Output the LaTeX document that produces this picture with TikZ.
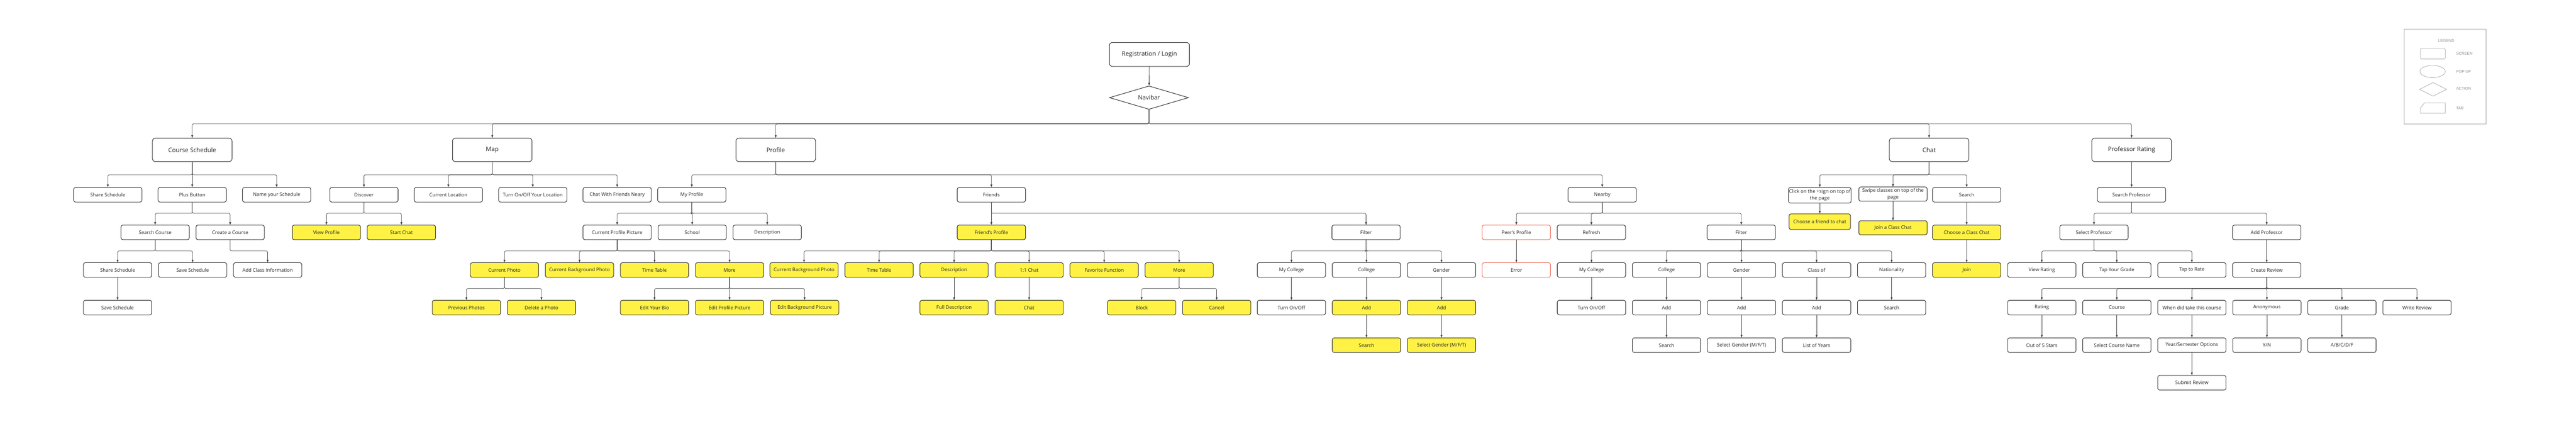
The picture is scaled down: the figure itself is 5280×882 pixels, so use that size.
\documentclass[tikz,border=0pt]{standalone}
\usepackage{fontspec}
\setmainfont{Open Sans}
\newfontfamily\legendfont{Liberation Sans}
\usetikzlibrary{positioning, arrows.meta, shapes.geometric}
\definecolor{boxyellow}{HTML}{FFF245}
\definecolor{boxred}{HTML}{EE6B5B}

\begin{document}
\begin{tikzpicture}[
  x=1pt, y=-1pt,
  node distance=47pt and 13.8pt,
  >={Latex[length=6pt,width=4.5pt]},
  every node/.style={font=\fontsize{10}{12}\selectfont, text=black!85},
  scr/.style={draw=black!80, line width=1.1pt, rounded corners=4pt, outer sep=0pt,
    minimum width=140pt, minimum height=30pt, inner sep=2pt, align=center},
  hot/.style={scr, fill=boxyellow},
  err/.style={scr, draw=boxred},
  main/.style={scr, minimum width=163pt, minimum height=48pt, rounded corners=6pt,
    font=\fontsize{12.6}{15}\selectfont},
  twoline/.style={font=\fontsize{10}{14}\selectfont, inner xsep=1pt},
  link/.style={->, draw=black!75, line width=0.8pt, rounded corners=3pt},
  lgline/.style={draw=black!35, line width=0.8pt},
  lgtext/.style={font=\legendfont\fontsize{8}{9}\selectfont, text=black!45}
]
\useasboundingbox (0,0) rectangle (5280,882);
\fill[white] (0,0) rectangle (5280,882);

% Login
\node[main, minimum width=164pt, minimum height=49pt] (reg) at (2356,111.5) {Registration / Login};
\node[draw=black!80, line width=1.1pt, diamond, aspect=3.4, minimum width=162pt,
  minimum height=48pt, inner sep=0pt, font=\fontsize{12.4}{15}\selectfont] (nav) at (2355,200) {Navibar};
\draw[link] (reg) -- (nav);

% Tabs
\node[main] (cs) at (394,307) {Course Schedule};
\node[main] (map) at (1009,307) {Map};
\node[main] (pf) at (1590,307) {Profile};
\node[main] (ch) at (3954,307) {Chat};
\node[main] (pr) at (4369,307) {Professor Rating};
\foreach \X in {cs,map,pf,ch,pr} {
  \draw[link] (nav.south) -- ++(0,29) -| (\X.north);
}

% Course Schedule
\node[scr] (cs1) at (221,399) {Share Schedule};
\node[scr] (cs2) at (394,399) {Plus Button};
\node[scr] (cs3) at (567,399) {Name your Schedule};
\node[scr] (cs21) at (318,476) {Search Course};
\node[scr, right=of cs21] (cs22) {Create a Course};
\node[scr] (cs211) at (241,553) {Share Schedule};
\node[scr, right=of cs211] (cs212) {Save Schedule};
\node[scr, right=of cs212] (cs221) {Add Class Information};
\node[scr, below=of cs211] (cs2111) {Save Schedule};

\foreach \X in {cs1,cs2,cs3} {\draw[link] (cs.south) -- ++(0,27) -| (\X.north);}
\foreach \X in {cs21,cs22} {\draw[link] (cs2.south) -- ++(0,23) -| (\X.north);}
\foreach \X in {cs211,cs212} {\draw[link] (cs21.south) -- ++(0,23) -| (\X.north);}
\draw[link] (cs22.south) -- ++(0,23) -| (cs221.north);

% Map
\node[scr] (mp1) at (746,399) {Discover};
\node[scr] (mp2) at (919,399) {Current Location};
\node[scr] (mp3) at (1092,399) {Turn On/Off Your Location};
\node[scr] (mp4) at (1265,399) {Chat With Friends Neary};
\node[hot] (mp11) at (669,476) {View Profile};
\node[hot, right=of mp11] (mp12) {Start Chat};

\foreach \X in {mp1,mp2,mp3,mp4} {\draw[link] (map.south) -- ++(0,27) -| (\X.north);}
\foreach \X in {mp11,mp12} {\draw[link] (mp1.south) -- ++(0,23) -| (\X.north);}

% Profile / My Profile
\node[scr] (pf1) at (1418,399) {My Profile};
\node[scr] (pf2) at (2032,399) {Friends};
\node[scr] (pf3) at (3284,399) {Nearby};
\node[scr] (pf11) at (1265,476) {Current Profile Picture};
\node[scr, right=of pf11] (pf12) {School};
\node[scr, right=of pf12] (pf13) {Description};
\node[hot] (pf111) at (1034,553) {Current Photo};
\node[hot, right=of pf111] (pf112) {Current Background Photo};
\node[hot, right=of pf112] (pf113) {Time Table};
\node[hot, right=of pf113] (pf114) {More};
\node[hot] (pf1111) at (956,630) {Previous Photos};
\node[hot, right=of pf1111] (pf1112) {Delete a Photo};
\node[hot, below=of pf113] (pf1141) {Edit Your Bio};
\node[hot, right=of pf1141] (pf1142) {Edit Profile Picture};
\node[hot, right=of pf1142] (pf1143) {Edit Background Picture};

\foreach \X in {pf1,pf2,pf3} {\draw[link] (pf.south) -- ++(0,27) -| (\X.north);}
\foreach \X in {pf11,pf12,pf13} {\draw[link] (pf1.south) -- ++(0,23) -| (\X.north);}
\foreach \X in {pf111,pf112,pf113,pf114} {\draw[link] (pf11.south) -- ++(0,23) -| (\X.north);}
\foreach \X in {pf1111,pf1112} {\draw[link] (pf111.south) -- ++(0,23) -| (\X.north);}
\foreach \X in {pf1141,pf1142,pf1143} {\draw[link] (pf114.south) -- ++(0,23) -| (\X.north);}

% Friends
\node[hot] (fr1) at (2032,476) {Friend's Profile};
\node[scr] (fr2) at (2800,476) {Filter};
\node[hot] (fr11) at (1648,553) {Current Background Photo};
\node[hot, right=of fr11] (fr12) {Time Table};
\node[hot, right=of fr12] (fr13) {Description};
\node[hot, right=of fr13] (fr14) {1:1 Chat};
\node[hot, right=of fr14] (fr15) {Favorite Function};
\node[hot, right=of fr15] (fr16) {More};
\node[hot, below=of fr13] (fr131) {Full Description};
\node[hot, below=of fr14] (fr141) {Chat};
\node[hot] (fr161) at (2340,630) {Block};
\node[hot, right=of fr161] (fr162) {Cancel};
\node[scr] (fr21) at (2647,553) {My College};
\node[scr, right=of fr21] (fr22) {College};
\node[scr, right=of fr22] (fr23) {Gender};
\node[scr, below=of fr21] (fr211) {Turn On/Off};
\node[hot, below=of fr22] (fr221) {Add};
\node[hot, below=of fr221] (fr2211) {Search};
\node[hot, below=of fr23] (fr231) {Add};
\node[hot, below=of fr231] (fr2311) {Select Gender (M/F/T)};

\foreach \X in {fr1,fr2} {\draw[link] (pf2.south) -- ++(0,23) -| (\X.north);}
\foreach \X in {fr11,fr12,fr13,fr14,fr15,fr16} {\draw[link] (fr1.south) -- ++(0,23) -| (\X.north);}
\foreach \X in {fr161,fr162} {\draw[link] (fr16.south) -- ++(0,23) -| (\X.north);}
\foreach \X in {fr21,fr22,fr23} {\draw[link] (fr2.south) -- ++(0,23) -| (\X.north);}

% Nearby
\node[err] (nb1) at (3108,476) {Peer's Profile};
\node[scr, right=of nb1] (nb2) {Refresh};
\node[scr] (nb3) at (3569,476) {Filter};
\node[err, below=of nb1] (nb11) {Error};
\node[scr] (nb31) at (3262,553) {My College};
\node[scr, right=of nb31] (nb32) {College};
\node[scr, right=of nb32] (nb33) {Gender};
\node[scr, right=of nb33] (nb34) {Class of};
\node[scr, right=of nb34] (nb35) {Nationality};
\node[scr, below=of nb31] (nb311) {Turn On/Off};
\node[scr, below=of nb32] (nb321) {Add};
\node[scr, below=of nb321] (nb3211) {Search};
\node[scr, below=of nb33] (nb331) {Add};
\node[scr, below=of nb331] (nb3311) {Select Gender (M/F/T)};
\node[scr, below=of nb34] (nb341) {Add};
\node[scr, below=of nb341] (nb3411) {List of Years};
\node[scr, below=of nb35] (nb351) {Search};

\foreach \X in {nb1,nb2,nb3} {\draw[link] (pf3.south) -- ++(0,23) -| (\X.north);}
\foreach \X in {nb31,nb32,nb33,nb34,nb35} {\draw[link] (nb3.south) -- ++(0,23) -| (\X.north);}

% Chat
\node[scr, twoline, minimum width=126pt, minimum height=32pt] (ch1) at (3730,400) {Click on the +sign on top of\\the page};
\node[hot, minimum width=126pt, minimum height=32pt] (ch11) at (3730,454) {Choose a friend to chat};
\node[scr, twoline, minimum height=29pt] (ch2) at (3880,397.5) {Swipe classes on top of the\\page};
\node[hot, minimum height=29pt] (ch21) at (3880,466.5) {Join a Class Chat};
\node[scr] (ch3) at (4031,399) {Search};
\node[hot, below=of ch3] (ch31) {Choose a Class Chat};
\node[hot, below=of ch31] (ch311) {Join};

\foreach \X in {ch1,ch2,ch3} {\draw[link] (ch.south) -- ++(0,27) -| (\X.north);}

% Professor Rating
\node[scr] (pr1) at (4369,399) {Search Professor};
\node[scr] (pr11) at (4292,476) {Select Professor};
\node[scr] (pr12) at (4646,476) {Add Professor};
\node[scr] (pr111) at (4185,553) {View Rating};
\node[scr, right=of pr111] (pr112) {Tap Your Grade};
\node[scr, right=of pr112] (pr113) {Tap to Rate};
\node[scr, below=of pr12] (pr121) {Create Review};
\node[scr] (pr1211) at (4185,630) {Rating};
\node[scr, right=of pr1211] (pr1212) {Course};
\node[scr, right=of pr1212] (pr1213) {When did take this course};
\node[scr, right=of pr1213] (pr1214) {Anonymous};
\node[scr, right=of pr1214] (pr1215) {Grade};
\node[scr, right=of pr1215] (pr1216) {Write Review};
\node[scr, below=of pr1211] (pr12111) {Out of 5 Stars};
\node[scr, below=of pr1212] (pr12121) {Select Course Name};
\node[scr, below=of pr1213] (pr12131) {Year/Semester Options};
\node[scr, below=of pr12131] (pr121311) {Submit Review};
\node[scr, below=of pr1214] (pr12141) {Y/N};
\node[scr, below=of pr1215] (pr12151) {A/B/C/D/F};

\foreach \X in {pr11,pr12} {\draw[link] (pr1.south) -- ++(0,23) -| (\X.north);}
\foreach \X in {pr111,pr112,pr113} {\draw[link] (pr11.south) -- ++(0,23) -| (\X.north);}
\foreach \X in {pr1211,pr1212,pr1213,pr1214,pr1215,pr1216} {\draw[link] (pr121.south) -- ++(0,23) -| (\X.north);}

% Straight links
\foreach \A/\B in {pr/pr1, pr12/pr121, pr1211/pr12111, pr1212/pr12121, pr1213/pr12131,
  pr12131/pr121311, pr1214/pr12141, pr1215/pr12151, ch1/ch11, ch2/ch21, ch3/ch31, ch31/ch311,
  cs211/cs2111, fr13/fr131, fr14/fr141, fr21/fr211, fr22/fr221, fr221/fr2211, fr23/fr231,
  fr231/fr2311, nb1/nb11, nb31/nb311, nb32/nb321, nb321/nb3211, nb33/nb331, nb331/nb3311,
  nb34/nb341, nb341/nb3411, nb35/nb351} {
  \draw[link] (\A) -- (\B);
}

% Legend
\node[lgline, draw, minimum width=168pt, minimum height=194pt] (lg) at (5012,157) {};
\node[lgtext] (lgt) at (5014,83) {LEGEND};
\node[lgline, draw, rounded corners=2pt, minimum width=51pt, minimum height=22pt] (lgs) at (4986.5,110) {};
\node[lgtext, anchor=west] (lgst) at (5031,110) {SCREEN};
\node[lgline, draw, ellipse, minimum width=52pt, minimum height=25pt] (lgp) at (4986,146.5) {};
\node[lgtext, anchor=west] (lgpt) at (5031,147) {POP UP};
\node[lgline, draw, diamond, minimum width=56pt, minimum height=28pt, inner sep=0pt] (lga) at (4987,183) {};
\node[lgtext, anchor=west] (lgat) at (5031,182) {ACTION};
\draw[lgline] (4961,232) -- (4961,222) -- (4969,211) -- (5012,211) -- (5012,232) -- cycle;
\node[lgtext, anchor=west] (lgtt) at (5031,222) {TAB};

\end{tikzpicture}
\end{document}
